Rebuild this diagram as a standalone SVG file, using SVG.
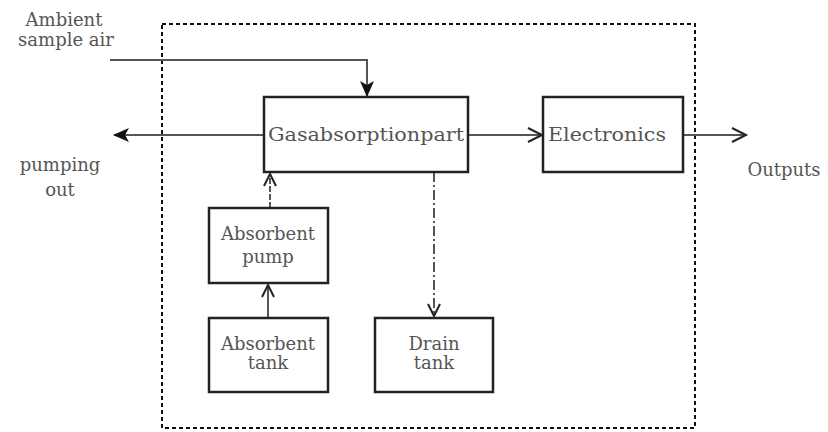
<svg xmlns="http://www.w3.org/2000/svg" width="828" height="432" viewBox="0 0 828 432">
<style>
.box{fill:#fff;stroke:#222;stroke-width:2.5}
.t{font-family:"DejaVu Serif",serif;font-size:18px;fill:#555;text-anchor:middle}
.ln{fill:none;stroke:#555;stroke-width:2}
.open{fill:none;stroke:#222;stroke-width:2}
</style>
<defs>
<marker id="fill" markerWidth="16" markerHeight="16" refX="15" refY="8" orient="auto" markerUnits="userSpaceOnUse" viewBox="0 0 16 16"><path d="M0,1 L16,8 L0,15 L4,8 Z" fill="#111"/></marker>
</defs>
<rect x="162" y="24" width="533" height="404" fill="none" stroke="#111" stroke-width="2" stroke-dasharray="4 3"/>
<g id="connectors">
<path class="ln" d="M110,60 H367 V96" stroke="#555" stroke-width="3" marker-end="url(#fill)"/>
<path class="ln" d="M264,135 H114" stroke="#333" marker-end="url(#fill)"/>
<path class="ln" d="M468,135 H542"/>
<path class="open" d="M528,128 L542,135 L528,142"/>
<path class="ln" d="M683,135 H746"/>
<path class="open" d="M732,128 L746,135 L732,142"/>
<path class="ln" d="M270,208 V174" stroke-width="3" stroke-dasharray="6 2"/>
<path class="open" d="M264,186 L270,174 L276,186"/>
<path class="ln" d="M268,318 V285" stroke-width="3"/>
<path class="open" d="M262,297 L268,285 L274,297"/>
<path class="ln" d="M434,172 V316" stroke="#111" stroke-width="2.5" stroke-dasharray="10 3 2 3"/>
<path class="open" d="M428,304 L434,316 L440,304"/>
</g>
<g id="gas"><rect class="box" x="264" y="97" width="204" height="75"/><text class="t" x="366" y="141" textLength="196" lengthAdjust="spacingAndGlyphs">Gasabsorptionpart</text></g>
<g id="electronics"><rect class="box" x="543" y="97" width="140" height="75"/><text class="t" x="607" y="141" textLength="118" lengthAdjust="spacingAndGlyphs">Electronics</text></g>
<g id="pump"><rect class="box" x="209" y="208" width="119" height="75"/><text class="t" x="268" y="240">Absorbent</text><text class="t" x="268" y="263">pump</text></g>
<g id="abstank"><rect class="box" x="209" y="318" width="119" height="74"/><text class="t" x="268" y="350">Absorbent</text><text class="t" x="268" y="369">tank</text></g>
<g id="drain"><rect class="box" x="375" y="318" width="118" height="74"/><text class="t" x="434" y="350">Drain</text><text class="t" x="434" y="369">tank</text></g>
<g id="labels">
<text class="t" x="64" y="26">Ambient</text>
<text class="t" x="66" y="46">sample air</text>
<text class="t" x="60" y="171">pumping</text>
<text class="t" x="60" y="196">out</text>
<text class="t" x="784" y="176">Outputs</text>
</g>
</svg>
